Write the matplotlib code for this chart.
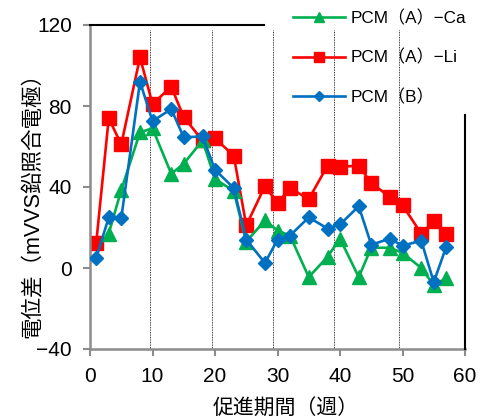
import matplotlib
matplotlib.use("Agg")
import matplotlib.pyplot as plt

plt.rcParams['font.family'] = ['Liberation Sans', 'Noto Sans CJK JP', 'DejaVu Sans']

# Weeks of accelerated exposure and measured potential differences (mV)
weeks_ca = [3, 5, 8, 10, 13, 15, 18, 20, 23, 25, 28, 30, 32, 35, 38, 40, 43, 45, 48, 50, 53, 55, 57]
pcm_a_ca = [17, 38.5, 67, 69, 46.5, 51.5, 63, 44, 38, 13, 23.5, 18.5, 16, -4.5, 5.5, 14.5, -4.5, 10, 10, 7.5, 0, -8.5, -5]

weeks = [1, 3, 5, 8, 10, 13, 15, 18, 20, 23, 25, 28, 30, 32, 35, 38, 40, 43, 45, 48, 50, 53, 55, 57]
pcm_a_li = [12.5, 74, 61, 104, 81, 89.5, 74.5, 63, 64, 55.5, 21, 40.5, 32, 39.5, 34, 50.5, 50, 50.5, 42, 35, 31, 17, 23, 17]
pcm_b = [5, 25, 24.5, 92, 72.5, 78.5, 64.5, 65, 48.5, 39.5, 14, 2.5, 14, 16, 25, 19.5, 21.5, 30.5, 11.5, 14.5, 11, 13.5, -7, 10.5]

# Boundaries between exposure periods (dotted guides)
period_marks = [9.6, 19.5, 29.2, 39.1, 49.5]

x_ticks = [0, 10, 20, 30, 40, 50, 60]
y_ticks = [-40, 0, 40, 80, 120]

fig = plt.figure(figsize=(4.84, 4.20), dpi=100)
ax = fig.add_axes([90 / 484, 71 / 420, 375 / 484, 324 / 420])

for xm in period_marks:
    ax.axvline(xm, ymin=0, ymax=0.985, color='black', linestyle=(0, (1, 1)), linewidth=0.6, zorder=1)

ax.plot(weeks_ca, pcm_a_ca, color='#00B050', marker='^', markersize=9.5, linewidth=1.9,
        label='PCM（A）−Ca', zorder=3)
ax.plot(weeks, pcm_a_li, color='#FF0000', marker='s', markersize=10, linewidth=1.9,
        label='PCM（A）−Li', zorder=2)
ax.plot(weeks, pcm_b, color='#0070C0', marker='D', markersize=7.5, linewidth=1.9,
        label='PCM（B）', zorder=4)

ax.set_xlim(0, 60)
ax.set_ylim(-40, 120)
ax.set_xticks(x_ticks)
ax.set_yticks(y_ticks)

for side in ('top', 'right'):
    ax.spines[side].set_visible(False)
for side in ('left', 'bottom'):
    ax.spines[side].set_color('#8c8c8c')
    ax.spines[side].set_linewidth(1.8)

# Partial frame lines that remain visible around the legend
ax.plot([0, 27.8], [120, 120], color='black', linewidth=1.5, clip_on=False, zorder=5)
ax.plot([60, 60], [-40, 75.5], color='black', linewidth=1.5, clip_on=False, zorder=5)

ax.tick_params(axis='both', direction='out', length=5, width=1.5, color='#8c8c8c',
               labelsize=15, pad=8)

fig.text(286 / 484, 1 - 409 / 420, '促進期間（週）', ha='center', va='center', fontsize=15)
fig.text(33 / 484, 1 - 200 / 420, '電位差（mVVS鉛照合電極）', ha='center', va='center',
         rotation=90, fontsize=15.5)

leg = ax.legend(loc='upper left', bbox_to_anchor=(293 / 484, 1 - 10 / 420),
                bbox_transform=fig.transFigure, frameon=False, fontsize=12.3,
                handlelength=3.05, handletextpad=0.3, labelspacing=1.36,
                borderpad=0, borderaxespad=0, markerscale=0.7)

fig.savefig('out.png', dpi=100)
